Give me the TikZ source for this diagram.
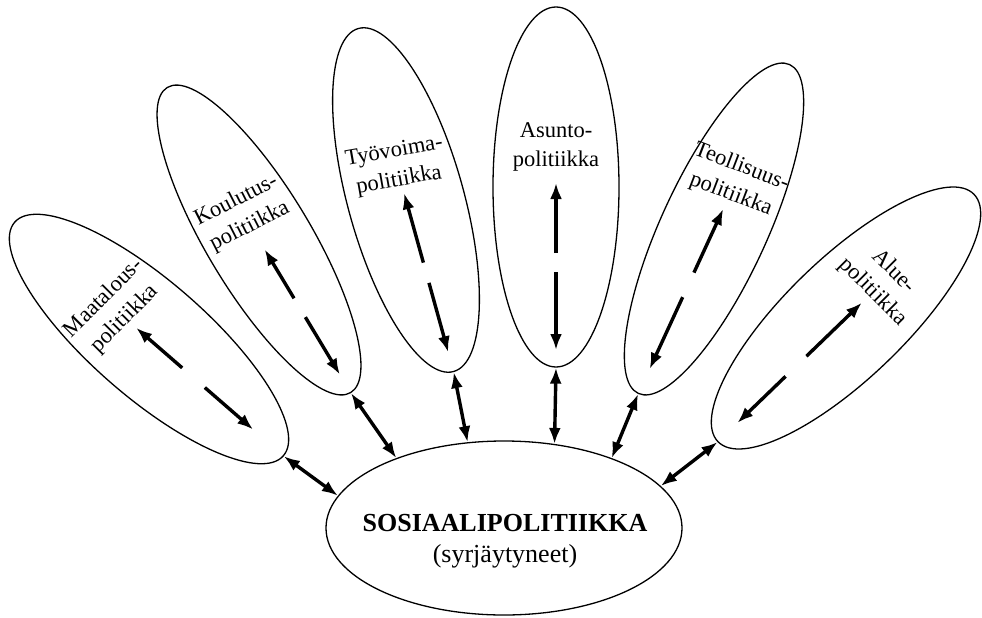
\documentclass[tikz,border=0pt]{standalone}
\usepackage{fontspec}
\setmainfont{Liberation Serif}
\usetikzlibrary{arrows.meta,calc,shapes.geometric}

\begin{document}
\begin{tikzpicture}[x=1pt,y=-1pt,>={Latex[length=16pt,width=12pt]},
 petal/.style={draw,ellipse,line width=1.3pt,inner sep=0pt,minimum height=356pt},
 area/.style={align=center,font=\fontsize{22.5}{29.5}\selectfont},
 flow/.style={->,line width=3.4pt},
 link/.style={<->,line width=3.4pt}]
\useasboundingbox (0,0) rectangle (982,618);
% centre
\node[draw,ellipse,line width=1.3pt,minimum width=356pt,minimum height=174pt] (sos) at (504,528) {};
\node[align=center,font=\fontsize{26}{31}\selectfont] (sos-t) at (505,541) {\textbf{SOSIAALIPOLITIIKKA}\\(syrjäytyneet)};
% petals
\node[petal,minimum width=116pt,rotate=49] (maa) at (149,339) {};
\node[petal,minimum width=104pt,rotate=31] (kou) at (259,240) {};
\node[petal,minimum width=116pt,rotate=15.5] (tyo) at (406,200) {};
\node[petal,minimum width=126pt,minimum height=360pt] (asu) at (556,187) {};
\node[petal,minimum width=106pt,minimum height=362pt,rotate=-24.7] (teo) at (714,229) {};
\node[petal,minimum width=120pt,rotate=-46] (alu) at (846,318) {};
\node[area,rotate=45] (maa-t) at ($(maa.center)!46pt!(maa.north)$) {Maatalous-\\politiikka};
\node[area,rotate=27] (kou-t) at ($(kou.center)!31pt!(kou.north)$) {Koulutus-\\politiikka};
\node[area,rotate=10] (tyo-t) at ($(tyo.center)!35pt!(tyo.north)$) {Työvoima-\\politiikka};
\node[area] (asu-t) at ($(asu.center)!40pt!(asu.north)$) {Asunto-\\politiikka};
\node[area,rotate=-21] (teo-t) at ($(teo.center)!53pt!(teo.north)$) {Teollisuus-\\politiikka};
\node[area,rotate=-45] (alu-t) at ($(alu.center)!52pt!(alu.north)$) {Alue-\\politiikka};
% arrows inside the petals
\draw[flow] ($(maa.center)!44pt!(maa.south)$) -- ($(maa.center)!17pt!(maa.north)$);
\draw[flow] ($(maa.center)!74pt!(maa.south)$) -- ($(maa.center)!138pt!(maa.south)$);
\draw[flow] ($(kou.center)!68pt!(kou.south)$) -- ($(kou.center)!11pt!(kou.south)$);
\draw[flow] ($(kou.center)!90pt!(kou.south)$) -- ($(kou.center)!157pt!(kou.south)$);
\draw[flow] ($(tyo.center)!65pt!(tyo.south)$) -- ($(tyo.center)!7pt!(tyo.north)$);
\draw[flow] ($(tyo.center)!86pt!(tyo.south)$) -- ($(tyo.center)!158pt!(tyo.south)$);
\draw[flow] ($(asu.center)!66pt!(asu.south)$) -- ($(asu.center)!4pt!(asu.north)$);
\draw[flow] ($(asu.center)!85pt!(asu.south)$) -- ($(asu.center)!163pt!(asu.south)$);
\draw[flow] ($(teo.center)!48pt!(teo.south)$) -- ($(teo.center)!22pt!(teo.north)$);
\draw[flow] ($(teo.center)!75pt!(teo.south)$) -- ($(teo.center)!154pt!(teo.south)$);
\draw[flow] ($(alu.center)!55pt!(alu.south)$) -- ($(alu.center)!22pt!(alu.north)$);
\draw[flow] ($(alu.center)!84pt!(alu.south)$) -- ($(alu.center)!151pt!(alu.south)$);
% links to the centre
\draw[link] (maa.south) -- (sos.169);
\draw[link] (kou.south) -- (sos.147);
\draw[link] (tyo.south) -- (sos.113);
\draw[link] (asu.south) -- (sos.59);
\draw[link] (teo.south) -- (sos.33);
\draw[link] (alu.south) -- (sos.15);
\end{tikzpicture}
\end{document}
